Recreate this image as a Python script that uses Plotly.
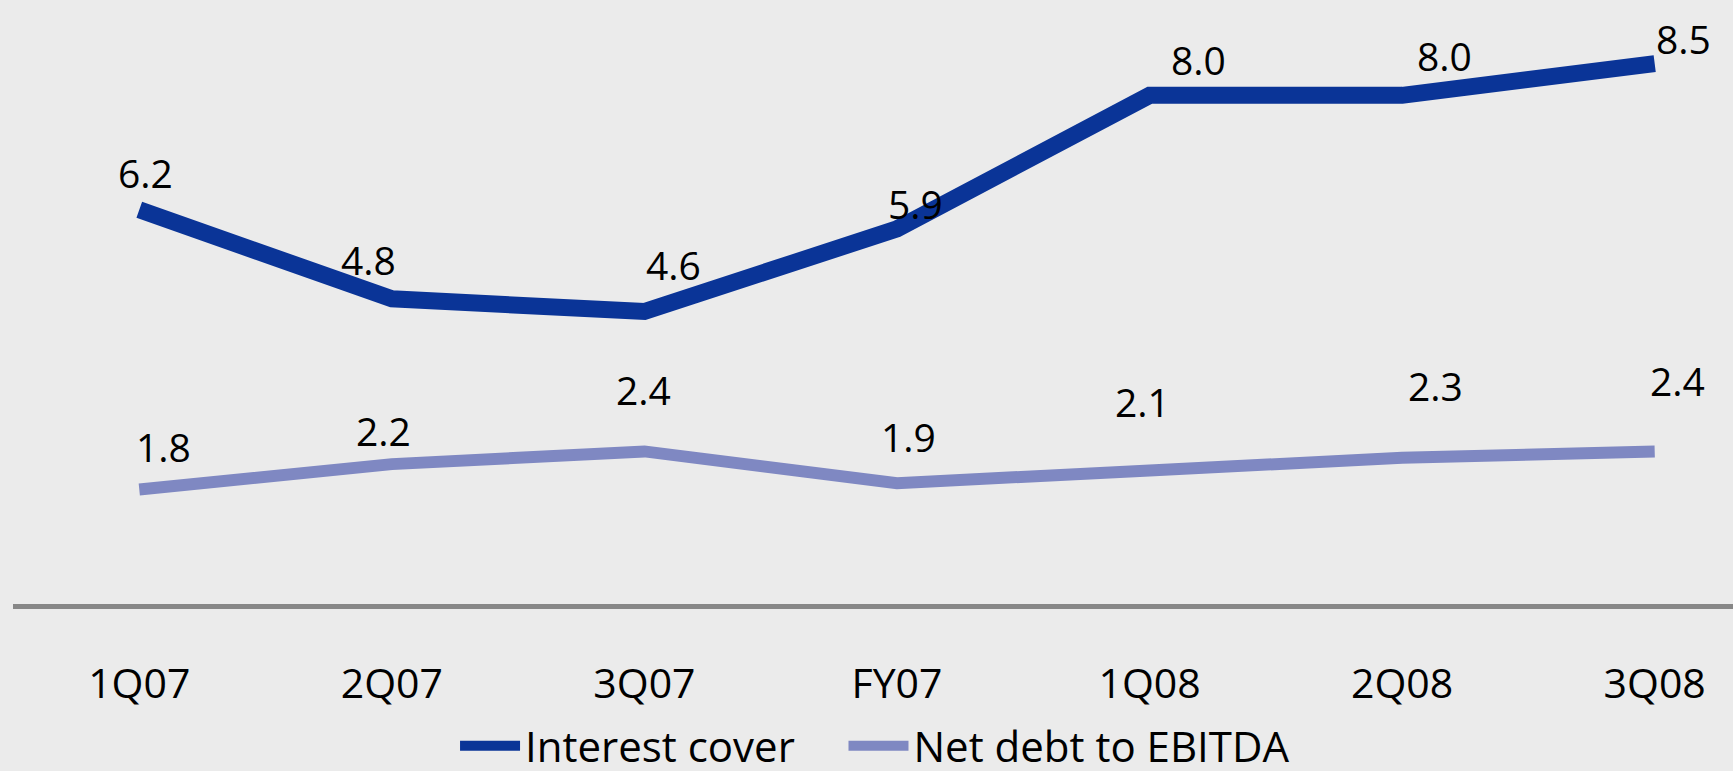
import plotly.graph_objects as go

categories = ["1Q07", "2Q07", "3Q07", "FY07", "1Q08", "2Q08", "3Q08"]
tick_labels = ["1Q07", "2Q07", "3Q07", "FY07", "1Q08", "2Q08", "3Q08"]
series_names = ["Interest cover", "Net debt to EBITDA"]
interest_cover = [6.2, 4.8, 4.6, 5.9, 8.0, 8.0, 8.5]
net_debt_ebitda = [1.8, 2.2, 2.4, 1.9, 2.1, 2.3, 2.4]

# label offsets in pixels (style only)
ic_shift = [(6, 37), (-23, 39), (29, 47), (19, 25), (49, 36), (42, 40), (29, 25)]
nd_shift = [(24, 43), (-8, 34), (-1, 62), (12, 47), (-7, 69), (33, 72), (23, 71)]

BLUE = "#0a3497"
LIGHT = "#7f88c2"
BG = "#ebebeb"
FONT = "Open Sans"
PAD = "\u00a0" * 4

fig = go.Figure()
fig.add_trace(go.Scatter(x=categories, y=interest_cover, mode="lines", name=series_names[0] + PAD,
                         line=dict(color=BLUE, width=17)))
fig.add_trace(go.Scatter(x=categories, y=net_debt_ebitda, mode="lines", name=series_names[1],
                         line=dict(color=LIGHT, width=12)))

annotations = []
for series, shifts in ((interest_cover, ic_shift), (net_debt_ebitda, nd_shift)):
    for c, v, (dx, dy) in zip(categories, series, shifts):
        annotations.append(dict(x=c, y=v, text=f"{v:.1f}", showarrow=False,
                                xshift=dx, yshift=dy,
                                font=dict(family=FONT, size=39, color="#000000")))

fig.update_layout(
    width=1733, height=771,
    paper_bgcolor=BG, plot_bgcolor=BG,
    margin=dict(l=13, r=0, t=0, b=167, autoexpand=False),
    showlegend=True,
    legend=dict(orientation="h", x=0.257, xanchor="left", y=-0.235, yanchor="middle",
                font=dict(family=FONT, size=42, color="#000000"),
                bgcolor="rgba(0,0,0,0)", itemwidth=60, tracegroupgap=0),
    annotations=annotations,
    xaxis=dict(type="category", categoryorder="array", categoryarray=categories,
               tickvals=categories, ticktext=tick_labels,
               range=[-0.5, 6.31], showgrid=False, zeroline=False,
               showline=True, linecolor="#878787", linewidth=5,
               ticks="", ticklabelstandoff=40,
               tickfont=dict(family=FONT, size=41, color="#000000")),
    yaxis=dict(range=[0, 9.5], visible=False, showgrid=False, zeroline=False),
)

fig.write_html("out.html", config={"displayModeBar": False},
               post_script="document.body.style.margin='0';document.body.style.background='#ebebeb';")
